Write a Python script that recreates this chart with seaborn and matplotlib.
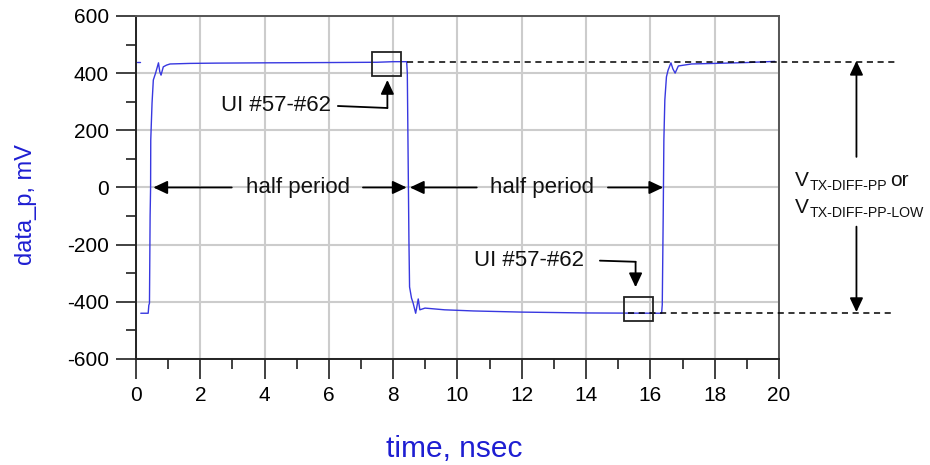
import numpy as np
import pandas as pd
import matplotlib
matplotlib.use("Agg")
import matplotlib.pyplot as plt
import seaborn as sns
from matplotlib.patches import Rectangle
from matplotlib.ticker import MultipleLocator

sns.set_theme(style="white")
plt.rcParams['font.family'] = ['Liberation Sans', 'DejaVu Sans']
plt.rcParams['axes.unicode_minus'] = False

# ---- data ----
time_ns = [0.03, 0.12,
           0.15, 0.38, 0.40, 0.42, 0.44, 0.455, 0.46, 0.50, 0.54, 0.61, 0.66, 0.70,
           0.74, 0.78, 0.85, 0.95, 1.06, 1.68, 2.5, 4.0, 6.0, 7.5, 8.0, 8.42,
           8.44, 8.47, 8.49, 8.51, 8.57, 8.62, 8.70, 8.78, 8.83, 8.99, 9.6, 10.5,
           12.0, 14.0, 16.35, 16.37, 16.40, 16.42, 16.45, 16.50, 16.55, 16.64,
           16.70, 16.77, 16.87, 17.28, 18.0, 19.0, 19.87]
data_p_mV = [440, 440,
             -440, -440, -412, -405, -100, 0, 166, 295, 376, 400, 420, 436,
             405, 393, 422, 428, 432, 434, 435, 436, 437, 438, 440, 440,
             400, 50, -183, -348, -387, -404, -440, -390, -428, -422, -428, -432,
             -436, -439, -440, -410, -93, 166, 306, 387, 410, 436,
             415, 400, 425, 432, 434, 437, 441]
segment = [0, 0] + [1] * (len(time_ns) - 2)

x_ticks = [0, 2, 4, 6, 8, 10, 12, 14, 16, 18, 20]
y_ticks = [-600, -400, -200, 0, 200, 400, 600]

v_high = 440
v_low = -440

df = pd.DataFrame({"time": time_ns, "value": data_p_mV, "seg": segment})

fig = plt.figure(figsize=(9.3, 4.65), dpi=100)
ax = fig.add_axes([0.1462, 0.228, 0.6914, 0.7377])

line_color = '#3838e0'
label_color = '#1e1ed2'

sns.lineplot(data=df, x="time", y="value", units="seg", estimator=None,
             sort=False, color=line_color, lw=1.0, ax=ax, legend=False)

ax.set_xlim(0, 20)
ax.set_ylim(-600, 600)
ax.set_xticks(x_ticks)
ax.set_yticks(y_ticks)
ax.xaxis.set_minor_locator(MultipleLocator(1))
ax.yaxis.set_minor_locator(MultipleLocator(100))
ax.grid(True, which='major', color='#cccccc', lw=1.5)
ax.grid(False, which='minor')
ax.set_axisbelow(True)

ax.tick_params(axis='both', which='both', bottom=True, left=True,
               top=False, right=False)
ax.tick_params(axis='both', which='major', direction='out', length=14.4,
               width=1.3, color='#333333', labelsize=15, pad=5,
               labelcolor='black')
ax.tick_params(axis='both', which='minor', direction='out', length=7.2,
               width=1.3, color='#333333')

for side in ['left', 'bottom']:
    ax.spines[side].set_color('#222222')
    ax.spines[side].set_linewidth(1.4)
for side in ['top', 'right']:
    ax.spines[side].set_color('#555555')
    ax.spines[side].set_linewidth(1.4)

ax.set_xlabel("time, nsec", fontsize=21.5, color=label_color)
ax.set_ylabel("data_p, mV", fontsize=17, color=label_color)
ax.xaxis.set_label_coords(0.4955, -0.221)
ax.yaxis.set_label_coords(-0.154, 0.449)

# ---- annotations ----
head = dict(arrowstyle='-|>,head_length=0.85,head_width=0.4', color='black',
            lw=1.3, shrinkA=0, shrinkB=0, mutation_scale=10)

# half period arrows
for tail, tip in [(2.98, 0.54), (7.06, 8.42), (10.6, 8.52), (14.68, 16.40)]:
    ax.annotate('', xy=(tip, 0), xytext=(tail, 0), arrowprops=head,
                annotation_clip=False)
for cx in [5.04, 12.63]:
    ax.text(cx, 0, "half period", ha='center', va='center', fontsize=16,
            color='#111111')

# UI boxes
ax.add_patch(Rectangle((7.35, 390), 0.88, 84, fill=False, ec='#222222',
                       lw=1.3, zorder=5))
ax.add_patch(Rectangle((15.18, -468), 0.91, 86, fill=False, ec='#222222',
                       lw=1.3, zorder=5))

# UI labels with elbow arrows
ax.text(4.37, 285, "UI #57-#62", ha='center', va='center', fontsize=16,
        color='#111111')
ax.plot([6.28, 7.82], [285, 278], color='black', lw=1.3)
ax.annotate('', xy=(7.82, 376), xytext=(7.82, 278), arrowprops=head)

ax.text(12.24, -256, "UI #57-#62", ha='center', va='center', fontsize=16,
        color='#111111')
ax.plot([14.43, 15.54], [-256, -260], color='black', lw=1.3)
ax.annotate('', xy=(15.54, -349), xytext=(15.54, -260), arrowprops=head)

# dashed reference lines (extend past the axes)
ax.plot([8.42, 23.67], [v_high, v_high], ls=(0, (4, 3)), color='black',
        lw=1.1, clip_on=False, zorder=4)
ax.plot([15.3, 23.55], [v_low, v_low], ls=(0, (4, 3)), color='black',
        lw=1.1, clip_on=False, zorder=4)

# vertical double arrow
ax.annotate('', xy=(22.41, v_high + 3), xytext=(22.41, 107), arrowprops=head,
            annotation_clip=False)
ax.annotate('', xy=(22.41, v_low + 4), xytext=(22.41, -137), arrowprops=head,
            annotation_clip=False)

# V_TX-DIFF-PP labels
for yb, sub, or_text in [(5, "TX-DIFF-PP", " or"), (-89, "TX-DIFF-PP-LOW", "")]:
    ax.annotate("V", xy=(20.5, yb), xytext=(0, 0), textcoords='offset points',
                ha='left', va='baseline', fontsize=15, color='#111111',
                annotation_clip=False)
    ax.annotate(sub, xy=(20.5, yb), xytext=(10.4, -3), textcoords='offset points',
                ha='left', va='baseline', fontsize=10.2, color='#111111',
                annotation_clip=False)
    if or_text:
        ax.annotate("or", xy=(20.5, yb), xytext=(68.5, 0), textcoords='offset points',
                    ha='left', va='baseline', fontsize=15, color='#111111',
                    annotation_clip=False)

fig.savefig("out.png", dpi=100)
